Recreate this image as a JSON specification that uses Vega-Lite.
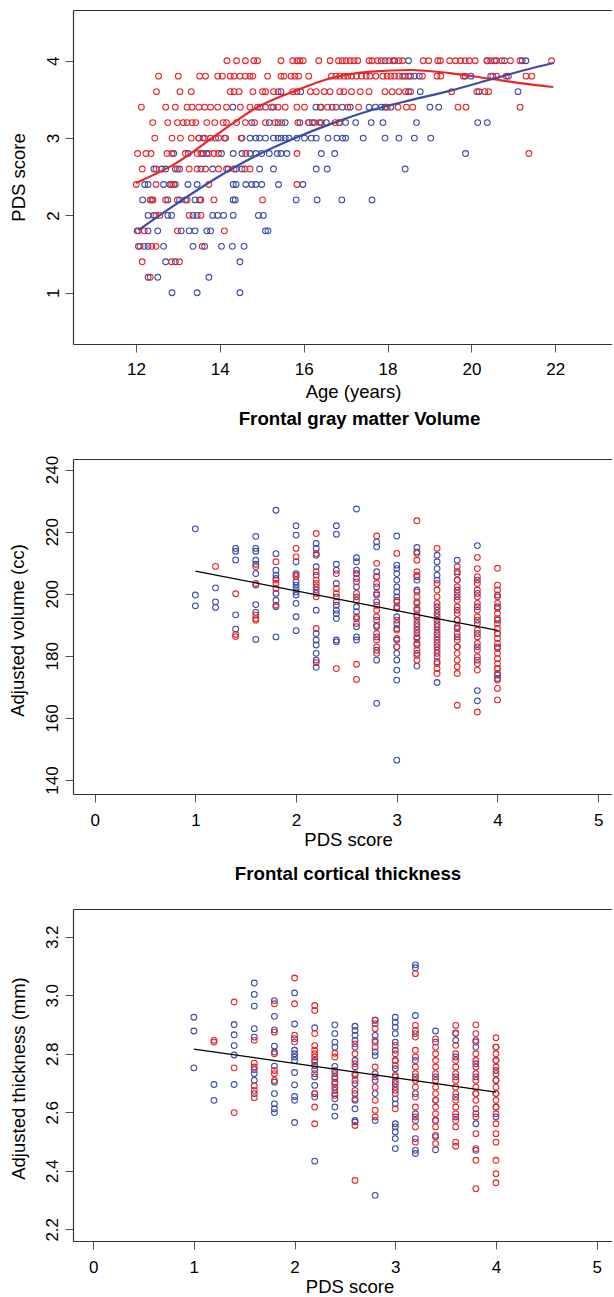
{
"$schema": "https://vega.github.io/schema/vega-lite/v6.json",
"background": "white",
"padding": {"left": 8, "top": 10, "right": 0, "bottom": 0},
"spacing": 115,
"bounds": "flush",
"config": {
 "view": {"stroke": null},
 "font": "Liberation Sans",
 "axis": {"labelFont": "Liberation Sans", "labelFontSize": 17, "labelColor": "#000", "titleFont": "Liberation Sans", "titleFontSize": 18.5, "titleFontWeight": "normal", "titleColor": "#000", "domainColor": "#333", "domainWidth": 1.2, "tickColor": "#555", "tickWidth": 1, "tickSize": 8, "grid": false},
 "title": {"font": "Liberation Sans", "fontSize": 18.7, "fontWeight": "bold", "color": "#000"}
},
"datasets": {
 "puberty": [
 {"sex":"M","pds":4,"age":17.94},{"sex":"M","pds":4,"age":18.17},{"sex":"M","pds":4,"age":18.5},{"sex":"M","pds":4,"age":20.37},{"sex":"M","pds":4,"age":20.55},{"sex":"M","pds":4,"age":20.79},{"sex":"M","pds":4,"age":21.21},{"sex":"M","pds":4,"age":21.3},
 {"sex":"M","pds":3.8,"age":18.36},{"sex":"M","pds":3.8,"age":18.5},{"sex":"M","pds":3.8,"age":18.64},{"sex":"M","pds":3.8,"age":18.76},{"sex":"M","pds":3.8,"age":19.85},{"sex":"M","pds":3.8,"age":19.99},{"sex":"M","pds":3.8,"age":20.46},{"sex":"M","pds":3.8,"age":20.88},
 {"sex":"M","pds":3.6,"age":15.46},{"sex":"M","pds":3.6,"age":15.93},{"sex":"M","pds":3.6,"age":18.5},{"sex":"M","pds":3.6,"age":18.78},{"sex":"M","pds":3.6,"age":20.18},{"sex":"M","pds":3.6,"age":21.11},
 {"sex":"M","pds":3.4,"age":14.31},{"sex":"M","pds":3.4,"age":14.96},{"sex":"M","pds":3.4,"age":15.23},{"sex":"M","pds":3.4,"age":16.29},{"sex":"M","pds":3.4,"age":16.4},{"sex":"M","pds":3.4,"age":16.68},{"sex":"M","pds":3.4,"age":16.92},{"sex":"M","pds":3.4,"age":17.11},{"sex":"M","pds":3.4,"age":17.56},{"sex":"M","pds":3.4,"age":17.71},{"sex":"M","pds":3.4,"age":17.85},{"sex":"M","pds":3.4,"age":17.94},{"sex":"M","pds":3.4,"age":18.08},{"sex":"M","pds":3.4,"age":19.01},{"sex":"M","pds":3.4,"age":19.22},
 {"sex":"M","pds":3.2,"age":14.76},{"sex":"M","pds":3.2,"age":15.18},{"sex":"M","pds":3.2,"age":15.39},{"sex":"M","pds":3.2,"age":15.56},{"sex":"M","pds":3.2,"age":15.91},{"sex":"M","pds":3.2,"age":16.12},{"sex":"M","pds":3.2,"age":16.21},{"sex":"M","pds":3.2,"age":16.38},{"sex":"M","pds":3.2,"age":16.54},{"sex":"M","pds":3.2,"age":16.86},{"sex":"M","pds":3.2,"age":17.0},{"sex":"M","pds":3.2,"age":17.24},{"sex":"M","pds":3.2,"age":17.61},{"sex":"M","pds":3.2,"age":17.89},{"sex":"M","pds":3.2,"age":18.69},{"sex":"M","pds":3.2,"age":20.15},{"sex":"M","pds":3.2,"age":20.38},
 {"sex":"M","pds":3,"age":13.5},{"sex":"M","pds":3,"age":13.6},{"sex":"M","pds":3,"age":13.9},{"sex":"M","pds":3,"age":14.11},{"sex":"M","pds":3,"age":14.53},{"sex":"M","pds":3,"age":14.72},{"sex":"M","pds":3,"age":14.86},{"sex":"M","pds":3,"age":14.95},{"sex":"M","pds":3,"age":15.09},{"sex":"M","pds":3,"age":15.28},{"sex":"M","pds":3,"age":15.39},{"sex":"M","pds":3,"age":15.46},{"sex":"M","pds":3,"age":15.56},{"sex":"M","pds":3,"age":15.65},{"sex":"M","pds":3,"age":15.84},{"sex":"M","pds":3,"age":16.02},{"sex":"M","pds":3,"age":16.18},{"sex":"M","pds":3,"age":16.3},{"sex":"M","pds":3,"age":16.58},{"sex":"M","pds":3,"age":16.79},{"sex":"M","pds":3,"age":16.93},{"sex":"M","pds":3,"age":17.0},{"sex":"M","pds":3,"age":17.42},{"sex":"M","pds":3,"age":17.94},{"sex":"M","pds":3,"age":18.27},{"sex":"M","pds":3,"age":18.64},{"sex":"M","pds":3,"age":19.03},
 {"sex":"M","pds":2.8,"age":12.9},{"sex":"M","pds":2.8,"age":13.25},{"sex":"M","pds":2.8,"age":13.6},{"sex":"M","pds":2.8,"age":13.69},{"sex":"M","pds":2.8,"age":14.04},{"sex":"M","pds":2.8,"age":14.32},{"sex":"M","pds":2.8,"age":14.53},{"sex":"M","pds":2.8,"age":14.72},{"sex":"M","pds":2.8,"age":14.86},{"sex":"M","pds":2.8,"age":15.0},{"sex":"M","pds":2.8,"age":15.18},{"sex":"M","pds":2.8,"age":15.37},{"sex":"M","pds":2.8,"age":15.46},{"sex":"M","pds":2.8,"age":15.6},{"sex":"M","pds":2.8,"age":16.42},{"sex":"M","pds":2.8,"age":16.74},{"sex":"M","pds":2.8,"age":19.86},
 {"sex":"M","pds":2.6,"age":12.43},{"sex":"M","pds":2.6,"age":12.62},{"sex":"M","pds":2.6,"age":12.71},{"sex":"M","pds":2.6,"age":12.94},{"sex":"M","pds":2.6,"age":13.04},{"sex":"M","pds":2.6,"age":13.55},{"sex":"M","pds":2.6,"age":13.83},{"sex":"M","pds":2.6,"age":14.2},{"sex":"M","pds":2.6,"age":14.39},{"sex":"M","pds":2.6,"age":14.53},{"sex":"M","pds":2.6,"age":14.95},{"sex":"M","pds":2.6,"age":15.28},{"sex":"M","pds":2.6,"age":16.3},{"sex":"M","pds":2.6,"age":16.56},{"sex":"M","pds":2.6,"age":18.42},
 {"sex":"M","pds":2.4,"age":12.21},{"sex":"M","pds":2.4,"age":12.29},{"sex":"M","pds":2.4,"age":12.66},{"sex":"M","pds":2.4,"age":12.81},{"sex":"M","pds":2.4,"age":12.94},{"sex":"M","pds":2.4,"age":13.24},{"sex":"M","pds":2.4,"age":13.46},{"sex":"M","pds":2.4,"age":14.32},{"sex":"M","pds":2.4,"age":14.39},{"sex":"M","pds":2.4,"age":14.62},{"sex":"M","pds":2.4,"age":14.76},{"sex":"M","pds":2.4,"age":14.86},{"sex":"M","pds":2.4,"age":15.0},{"sex":"M","pds":2.4,"age":15.4},{"sex":"M","pds":2.4,"age":15.98},
 {"sex":"M","pds":2.2,"age":12.16},{"sex":"M","pds":2.2,"age":12.38},{"sex":"M","pds":2.2,"age":12.76},{"sex":"M","pds":2.2,"age":13.04},{"sex":"M","pds":2.2,"age":13.18},{"sex":"M","pds":2.2,"age":13.41},{"sex":"M","pds":2.2,"age":13.52},{"sex":"M","pds":2.2,"age":14.32},{"sex":"M","pds":2.2,"age":14.37},{"sex":"M","pds":2.2,"age":15.82},{"sex":"M","pds":2.2,"age":16.32},{"sex":"M","pds":2.2,"age":16.91},{"sex":"M","pds":2.2,"age":17.63},
 {"sex":"M","pds":2,"age":12.29},{"sex":"M","pds":2,"age":12.43},{"sex":"M","pds":2,"age":12.76},{"sex":"M","pds":2,"age":12.85},{"sex":"M","pds":2,"age":13.36},{"sex":"M","pds":2,"age":13.46},{"sex":"M","pds":2,"age":13.83},{"sex":"M","pds":2,"age":13.95},{"sex":"M","pds":2,"age":14.09},{"sex":"M","pds":2,"age":14.32},{"sex":"M","pds":2,"age":14.92},{"sex":"M","pds":2,"age":15.04},
 {"sex":"M","pds":1.8,"age":12.03},{"sex":"M","pds":1.8,"age":12.29},{"sex":"M","pds":1.8,"age":12.52},{"sex":"M","pds":1.8,"age":13.08},{"sex":"M","pds":1.8,"age":13.27},{"sex":"M","pds":1.8,"age":13.41},{"sex":"M","pds":1.8,"age":13.69},{"sex":"M","pds":1.8,"age":13.78},{"sex":"M","pds":1.8,"age":15.09},{"sex":"M","pds":1.8,"age":15.15},
 {"sex":"M","pds":1.6,"age":12.06},{"sex":"M","pds":1.6,"age":12.2},{"sex":"M","pds":1.6,"age":12.29},{"sex":"M","pds":1.6,"age":12.66},{"sex":"M","pds":1.6,"age":13.36},{"sex":"M","pds":1.6,"age":13.64},{"sex":"M","pds":1.6,"age":14.04},{"sex":"M","pds":1.6,"age":14.3},{"sex":"M","pds":1.6,"age":14.58},
 {"sex":"M","pds":1.4,"age":12.71},{"sex":"M","pds":1.4,"age":12.94},{"sex":"M","pds":1.4,"age":14.48},
 {"sex":"M","pds":1.2,"age":12.29},{"sex":"M","pds":1.2,"age":12.52},{"sex":"M","pds":1.2,"age":13.74},
 {"sex":"M","pds":1,"age":12.86},{"sex":"M","pds":1,"age":13.46},{"sex":"M","pds":1,"age":14.48},
 {"sex":"F","pds":4,"age":14.17},{"sex":"F","pds":4,"age":14.4},{"sex":"F","pds":4,"age":14.61},{"sex":"F","pds":4,"age":14.81},{"sex":"F","pds":4,"age":14.9},{"sex":"F","pds":4,"age":15.46},{"sex":"F","pds":4,"age":15.74},{"sex":"F","pds":4,"age":15.84},{"sex":"F","pds":4,"age":15.91},{"sex":"F","pds":4,"age":15.99},{"sex":"F","pds":4,"age":16.36},{"sex":"F","pds":4,"age":16.63},{"sex":"F","pds":4,"age":16.83},{"sex":"F","pds":4,"age":16.92},{"sex":"F","pds":4,"age":17.01},{"sex":"F","pds":4,"age":17.11},{"sex":"F","pds":4,"age":17.2},{"sex":"F","pds":4,"age":17.29},{"sex":"F","pds":4,"age":17.56},{"sex":"F","pds":4,"age":17.63},{"sex":"F","pds":4,"age":17.76},{"sex":"F","pds":4,"age":17.85},{"sex":"F","pds":4,"age":18.03},{"sex":"F","pds":4,"age":18.13},{"sex":"F","pds":4,"age":18.27},{"sex":"F","pds":4,"age":18.36},{"sex":"F","pds":4,"age":18.85},{"sex":"F","pds":4,"age":18.98},{"sex":"F","pds":4,"age":19.2},{"sex":"F","pds":4,"age":19.26},{"sex":"F","pds":4,"age":19.48},{"sex":"F","pds":4,"age":19.62},{"sex":"F","pds":4,"age":19.74},{"sex":"F","pds":4,"age":19.85},{"sex":"F","pds":4,"age":19.95},{"sex":"F","pds":4,"age":20.09},{"sex":"F","pds":4,"age":20.38},{"sex":"F","pds":4,"age":20.46},{"sex":"F","pds":4,"age":20.6},{"sex":"F","pds":4,"age":20.72},{"sex":"F","pds":4,"age":20.93},{"sex":"F","pds":4,"age":21.16},{"sex":"F","pds":4,"age":21.91},
 {"sex":"F","pds":3.8,"age":12.54},{"sex":"F","pds":3.8,"age":13.01},{"sex":"F","pds":3.8,"age":13.52},{"sex":"F","pds":3.8,"age":13.66},{"sex":"F","pds":3.8,"age":13.95},{"sex":"F","pds":3.8,"age":14.06},{"sex":"F","pds":3.8,"age":14.25},{"sex":"F","pds":3.8,"age":14.34},{"sex":"F","pds":3.8,"age":14.48},{"sex":"F","pds":3.8,"age":14.61},{"sex":"F","pds":3.8,"age":14.72},{"sex":"F","pds":3.8,"age":14.79},{"sex":"F","pds":3.8,"age":15.14},{"sex":"F","pds":3.8,"age":15.46},{"sex":"F","pds":3.8,"age":15.53},{"sex":"F","pds":3.8,"age":15.7},{"sex":"F","pds":3.8,"age":15.79},{"sex":"F","pds":3.8,"age":15.88},{"sex":"F","pds":3.8,"age":16.12},{"sex":"F","pds":3.8,"age":16.66},{"sex":"F","pds":3.8,"age":16.77},{"sex":"F","pds":3.8,"age":16.86},{"sex":"F","pds":3.8,"age":16.96},{"sex":"F","pds":3.8,"age":17.05},{"sex":"F","pds":3.8,"age":17.14},{"sex":"F","pds":3.8,"age":17.26},{"sex":"F","pds":3.8,"age":17.38},{"sex":"F","pds":3.8,"age":17.49},{"sex":"F","pds":3.8,"age":17.58},{"sex":"F","pds":3.8,"age":17.72},{"sex":"F","pds":3.8,"age":17.89},{"sex":"F","pds":3.8,"age":17.99},{"sex":"F","pds":3.8,"age":18.08},{"sex":"F","pds":3.8,"age":18.17},{"sex":"F","pds":3.8,"age":18.27},{"sex":"F","pds":3.8,"age":18.42},{"sex":"F","pds":3.8,"age":18.55},{"sex":"F","pds":3.8,"age":18.83},{"sex":"F","pds":3.8,"age":19.18},{"sex":"F","pds":3.8,"age":19.27},{"sex":"F","pds":3.8,"age":19.81},{"sex":"F","pds":3.8,"age":20.51},{"sex":"F","pds":3.8,"age":20.6},{"sex":"F","pds":3.8,"age":20.83},{"sex":"F","pds":3.8,"age":21.3},{"sex":"F","pds":3.8,"age":21.44},
 {"sex":"F","pds":3.6,"age":12.49},{"sex":"F","pds":3.6,"age":13.05},{"sex":"F","pds":3.6,"age":13.32},{"sex":"F","pds":3.6,"age":14.25},{"sex":"F","pds":3.6,"age":14.34},{"sex":"F","pds":3.6,"age":14.46},{"sex":"F","pds":3.6,"age":14.79},{"sex":"F","pds":3.6,"age":15.02},{"sex":"F","pds":3.6,"age":15.09},{"sex":"F","pds":3.6,"age":15.28},{"sex":"F","pds":3.6,"age":15.39},{"sex":"F","pds":3.6,"age":15.74},{"sex":"F","pds":3.6,"age":15.84},{"sex":"F","pds":3.6,"age":16.16},{"sex":"F","pds":3.6,"age":16.3},{"sex":"F","pds":3.6,"age":16.49},{"sex":"F","pds":3.6,"age":16.63},{"sex":"F","pds":3.6,"age":16.86},{"sex":"F","pds":3.6,"age":16.96},{"sex":"F","pds":3.6,"age":17.14},{"sex":"F","pds":3.6,"age":17.35},{"sex":"F","pds":3.6,"age":17.56},{"sex":"F","pds":3.6,"age":17.94},{"sex":"F","pds":3.6,"age":18.11},{"sex":"F","pds":3.6,"age":18.27},{"sex":"F","pds":3.6,"age":18.43},{"sex":"F","pds":3.6,"age":18.55},{"sex":"F","pds":3.6,"age":19.53},{"sex":"F","pds":3.6,"age":20.13},{"sex":"F","pds":3.6,"age":20.32},{"sex":"F","pds":3.6,"age":20.41},
 {"sex":"F","pds":3.4,"age":12.13},{"sex":"F","pds":3.4,"age":12.71},{"sex":"F","pds":3.4,"age":12.94},{"sex":"F","pds":3.4,"age":13.22},{"sex":"F","pds":3.4,"age":13.34},{"sex":"F","pds":3.4,"age":13.5},{"sex":"F","pds":3.4,"age":13.64},{"sex":"F","pds":3.4,"age":13.78},{"sex":"F","pds":3.4,"age":13.95},{"sex":"F","pds":3.4,"age":14.16},{"sex":"F","pds":3.4,"age":14.49},{"sex":"F","pds":3.4,"age":14.72},{"sex":"F","pds":3.4,"age":14.9},{"sex":"F","pds":3.4,"age":15.09},{"sex":"F","pds":3.4,"age":15.28},{"sex":"F","pds":3.4,"age":15.39},{"sex":"F","pds":3.4,"age":15.56},{"sex":"F","pds":3.4,"age":15.84},{"sex":"F","pds":3.4,"age":16.02},{"sex":"F","pds":3.4,"age":16.42},{"sex":"F","pds":3.4,"age":16.57},{"sex":"F","pds":3.4,"age":16.77},{"sex":"F","pds":3.4,"age":17.05},{"sex":"F","pds":3.4,"age":17.31},{"sex":"F","pds":3.4,"age":17.99},{"sex":"F","pds":3.4,"age":18.25},{"sex":"F","pds":3.4,"age":18.45},{"sex":"F","pds":3.4,"age":18.6},{"sex":"F","pds":3.4,"age":19.68},{"sex":"F","pds":3.4,"age":19.87},{"sex":"F","pds":3.4,"age":21.16},
 {"sex":"F","pds":3.2,"age":12.4},{"sex":"F","pds":3.2,"age":12.76},{"sex":"F","pds":3.2,"age":12.99},{"sex":"F","pds":3.2,"age":13.13},{"sex":"F","pds":3.2,"age":13.22},{"sex":"F","pds":3.2,"age":13.34},{"sex":"F","pds":3.2,"age":13.43},{"sex":"F","pds":3.2,"age":13.69},{"sex":"F","pds":3.2,"age":13.88},{"sex":"F","pds":3.2,"age":14.08},{"sex":"F","pds":3.2,"age":14.16},{"sex":"F","pds":3.2,"age":14.4},{"sex":"F","pds":3.2,"age":14.61},{"sex":"F","pds":3.2,"age":14.83},{"sex":"F","pds":3.2,"age":15.09},{"sex":"F","pds":3.2,"age":15.32},{"sex":"F","pds":3.2,"age":15.48},{"sex":"F","pds":3.2,"age":15.86},{"sex":"F","pds":3.2,"age":16.12},{"sex":"F","pds":3.2,"age":16.26},{"sex":"F","pds":3.2,"age":16.42},{"sex":"F","pds":3.2,"age":16.75},{"sex":"F","pds":3.2,"age":16.85},
 {"sex":"F","pds":3,"age":12.45},{"sex":"F","pds":3,"age":12.86},{"sex":"F","pds":3,"age":13.06},{"sex":"F","pds":3,"age":13.32},{"sex":"F","pds":3,"age":13.5},{"sex":"F","pds":3,"age":13.64},{"sex":"F","pds":3,"age":13.78},{"sex":"F","pds":3,"age":13.97},{"sex":"F","pds":3,"age":14.14},{"sex":"F","pds":3,"age":14.51},
 {"sex":"F","pds":2.8,"age":12.04},{"sex":"F","pds":2.8,"age":12.24},{"sex":"F","pds":2.8,"age":12.36},{"sex":"F","pds":2.8,"age":12.74},{"sex":"F","pds":2.8,"age":12.86},{"sex":"F","pds":2.8,"age":13.18},{"sex":"F","pds":2.8,"age":13.46},{"sex":"F","pds":2.8,"age":13.55},{"sex":"F","pds":2.8,"age":13.74},{"sex":"F","pds":2.8,"age":13.86},{"sex":"F","pds":2.8,"age":13.97},{"sex":"F","pds":2.8,"age":14.62},{"sex":"F","pds":2.8,"age":15.84},{"sex":"F","pds":2.8,"age":21.37},
 {"sex":"F","pds":2.6,"age":12.15},{"sex":"F","pds":2.6,"age":12.48},{"sex":"F","pds":2.6,"age":12.99},{"sex":"F","pds":2.6,"age":13.27},{"sex":"F","pds":2.6,"age":13.46},{"sex":"F","pds":2.6,"age":13.66},{"sex":"F","pds":2.6,"age":13.97},{"sex":"F","pds":2.6,"age":14.16},{"sex":"F","pds":2.6,"age":14.34},{"sex":"F","pds":2.6,"age":14.6},{"sex":"F","pds":2.6,"age":14.72},
 {"sex":"F","pds":2.4,"age":12.01},{"sex":"F","pds":2.4,"age":12.48},{"sex":"F","pds":2.4,"age":12.85},{"sex":"F","pds":2.4,"age":12.9},{"sex":"F","pds":2.4,"age":13.74},{"sex":"F","pds":2.4,"age":15.84},
 {"sex":"F","pds":2.2,"age":12.34},{"sex":"F","pds":2.2,"age":12.41},{"sex":"F","pds":2.2,"age":12.71},{"sex":"F","pds":2.2,"age":12.99},{"sex":"F","pds":2.2,"age":13.22},{"sex":"F","pds":2.2,"age":13.55},{"sex":"F","pds":2.2,"age":13.86},{"sex":"F","pds":2.2,"age":15.02},
 {"sex":"F","pds":2,"age":12.48},{"sex":"F","pds":2,"age":12.57},{"sex":"F","pds":2,"age":13.27},{"sex":"F","pds":2,"age":13.55},
 {"sex":"F","pds":1.8,"age":12.06},{"sex":"F","pds":1.8,"age":12.2},{"sex":"F","pds":1.8,"age":12.99},{"sex":"F","pds":1.8,"age":14.11},
 {"sex":"F","pds":1.6,"age":12.1},{"sex":"F","pds":1.6,"age":12.38},{"sex":"F","pds":1.6,"age":12.48},{"sex":"F","pds":1.6,"age":13.58},
 {"sex":"F","pds":1.4,"age":12.15},{"sex":"F","pds":1.4,"age":12.85},{"sex":"F","pds":1.4,"age":13.04},
 {"sex":"F","pds":1.2,"age":12.34}
 ],
 "curves": [
 {"sex":"F","age":12.0,"pds":2.42},{"sex":"F","age":12.94,"pds":2.67},{"sex":"F","age":13.97,"pds":3.06},{"sex":"F","age":14.9,"pds":3.4},{"sex":"F","age":15.84,"pds":3.62},{"sex":"F","age":16.68,"pds":3.78},{"sex":"F","age":17.61,"pds":3.86},{"sex":"F","age":18.55,"pds":3.88},{"sex":"F","age":19.48,"pds":3.84},{"sex":"F","age":20.41,"pds":3.77},{"sex":"F","age":21.16,"pds":3.71},{"sex":"F","age":21.95,"pds":3.66},
 {"sex":"M","age":12.06,"pds":1.81},{"sex":"M","age":12.94,"pds":2.14},{"sex":"M","age":13.97,"pds":2.5},{"sex":"M","age":14.9,"pds":2.78},{"sex":"M","age":15.84,"pds":3.01},{"sex":"M","age":16.68,"pds":3.19},{"sex":"M","age":17.61,"pds":3.36},{"sex":"M","age":18.55,"pds":3.49},{"sex":"M","age":19.48,"pds":3.61},{"sex":"M","age":20.41,"pds":3.75},{"sex":"M","age":21.35,"pds":3.89},{"sex":"M","age":21.95,"pds":3.97}
 ],
 "volume": [
 {"sex":"M","pds":1,"vol":220.9},{"sex":"M","pds":1,"vol":199.6},{"sex":"M","pds":1,"vol":196.1},
 {"sex":"M","pds":1.2,"vol":201.9},{"sex":"M","pds":1.2,"vol":197.4},{"sex":"M","pds":1.2,"vol":195.6},
 {"sex":"M","pds":1.4,"vol":214.6},{"sex":"M","pds":1.4,"vol":213.7},{"sex":"M","pds":1.4,"vol":210.9},{"sex":"M","pds":1.4,"vol":193.2},{"sex":"M","pds":1.4,"vol":188.6},
 {"sex":"M","pds":1.6,"vol":218.5},{"sex":"M","pds":1.6,"vol":214.6},{"sex":"M","pds":1.6,"vol":213.7},{"sex":"M","pds":1.6,"vol":210.8},{"sex":"M","pds":1.6,"vol":209.5},{"sex":"M","pds":1.6,"vol":206.5},{"sex":"M","pds":1.6,"vol":202.8},{"sex":"M","pds":1.6,"vol":196.5},{"sex":"M","pds":1.6,"vol":194.0},{"sex":"M","pds":1.6,"vol":185.3},
 {"sex":"M","pds":1.8,"vol":226.9},{"sex":"M","pds":1.8,"vol":212.9},{"sex":"M","pds":1.8,"vol":207.6},{"sex":"M","pds":1.8,"vol":206.0},{"sex":"M","pds":1.8,"vol":204.9},{"sex":"M","pds":1.8,"vol":200.1},{"sex":"M","pds":1.8,"vol":197.9},{"sex":"M","pds":1.8,"vol":195.8},{"sex":"M","pds":1.8,"vol":186.1},
 {"sex":"M","pds":2,"vol":221.9},{"sex":"M","pds":2,"vol":218.9},{"sex":"M","pds":2,"vol":210.3},{"sex":"M","pds":2,"vol":206.5},{"sex":"M","pds":2,"vol":203.8},{"sex":"M","pds":2,"vol":202.8},{"sex":"M","pds":2,"vol":201.7},{"sex":"M","pds":2,"vol":200.6},{"sex":"M","pds":2,"vol":199.6},{"sex":"M","pds":2,"vol":196.9},{"sex":"M","pds":2,"vol":192.6},{"sex":"M","pds":2,"vol":188.1},
 {"sex":"M","pds":2.2,"vol":216.2},{"sex":"M","pds":2.2,"vol":214.6},{"sex":"M","pds":2.2,"vol":212.4},{"sex":"M","pds":2.2,"vol":208.7},{"sex":"M","pds":2.2,"vol":206.0},{"sex":"M","pds":2.2,"vol":202.2},{"sex":"M","pds":2.2,"vol":200.1},{"sex":"M","pds":2.2,"vol":194.7},{"sex":"M","pds":2.2,"vol":187.2},{"sex":"M","pds":2.2,"vol":185.1},{"sex":"M","pds":2.2,"vol":183.5},{"sex":"M","pds":2.2,"vol":180.8},{"sex":"M","pds":2.2,"vol":178.6},{"sex":"M","pds":2.2,"vol":176.3},
 {"sex":"M","pds":2.4,"vol":221.9},{"sex":"M","pds":2.4,"vol":219.2},{"sex":"M","pds":2.4,"vol":209.5},{"sex":"M","pds":2.4,"vol":207.6},{"sex":"M","pds":2.4,"vol":203.3},{"sex":"M","pds":2.4,"vol":199.0},{"sex":"M","pds":2.4,"vol":196.3},{"sex":"M","pds":2.4,"vol":194.7},{"sex":"M","pds":2.4,"vol":193.6},{"sex":"M","pds":2.4,"vol":192.0},{"sex":"M","pds":2.4,"vol":185.1},{"sex":"M","pds":2.4,"vol":184.5},
 {"sex":"M","pds":2.6,"vol":227.3},{"sex":"M","pds":2.6,"vol":211.6},{"sex":"M","pds":2.6,"vol":210.3},{"sex":"M","pds":2.6,"vol":207.6},{"sex":"M","pds":2.6,"vol":206.5},{"sex":"M","pds":2.6,"vol":204.9},{"sex":"M","pds":2.6,"vol":202.2},{"sex":"M","pds":2.6,"vol":199.0},{"sex":"M","pds":2.6,"vol":195.8},{"sex":"M","pds":2.6,"vol":194.2},{"sex":"M","pds":2.6,"vol":192.0},{"sex":"M","pds":2.6,"vol":189.4},{"sex":"M","pds":2.6,"vol":186.1},{"sex":"M","pds":2.6,"vol":185.1},
 {"sex":"M","pds":2.8,"vol":216.7},{"sex":"M","pds":2.8,"vol":215.1},{"sex":"M","pds":2.8,"vol":207.1},{"sex":"M","pds":2.8,"vol":205.5},{"sex":"M","pds":2.8,"vol":202.2},{"sex":"M","pds":2.8,"vol":199.6},{"sex":"M","pds":2.8,"vol":197.4},{"sex":"M","pds":2.8,"vol":191.5},{"sex":"M","pds":2.8,"vol":189.4},{"sex":"M","pds":2.8,"vol":186.1},{"sex":"M","pds":2.8,"vol":181.8},{"sex":"M","pds":2.8,"vol":178.6},{"sex":"M","pds":2.8,"vol":164.7},
 {"sex":"M","pds":3,"vol":218.6},{"sex":"M","pds":3,"vol":209.2},{"sex":"M","pds":3,"vol":208.1},{"sex":"M","pds":3,"vol":206.5},{"sex":"M","pds":3,"vol":204.4},{"sex":"M","pds":3,"vol":202.2},{"sex":"M","pds":3,"vol":200.6},{"sex":"M","pds":3,"vol":199.0},{"sex":"M","pds":3,"vol":197.4},{"sex":"M","pds":3,"vol":195.3},{"sex":"M","pds":3,"vol":192.6},{"sex":"M","pds":3,"vol":190.4},{"sex":"M","pds":3,"vol":188.8},{"sex":"M","pds":3,"vol":185.1},{"sex":"M","pds":3,"vol":182.9},{"sex":"M","pds":3,"vol":180.8},{"sex":"M","pds":3,"vol":178.6},{"sex":"M","pds":3,"vol":175.4},{"sex":"M","pds":3,"vol":172.2},{"sex":"M","pds":3,"vol":146.4},
 {"sex":"M","pds":3.2,"vol":214.9},{"sex":"M","pds":3.2,"vol":213.5},{"sex":"M","pds":3.2,"vol":205.5},{"sex":"M","pds":3.2,"vol":204.4},{"sex":"M","pds":3.2,"vol":201.2},{"sex":"M","pds":3.2,"vol":196.9},{"sex":"M","pds":3.2,"vol":194.7},{"sex":"M","pds":3.2,"vol":192.6},{"sex":"M","pds":3.2,"vol":190.4},{"sex":"M","pds":3.2,"vol":188.3},{"sex":"M","pds":3.2,"vol":186.1},{"sex":"M","pds":3.2,"vol":184.0},{"sex":"M","pds":3.2,"vol":180.8},{"sex":"M","pds":3.2,"vol":176.7},
 {"sex":"M","pds":3.4,"vol":212.4},{"sex":"M","pds":3.4,"vol":210.3},{"sex":"M","pds":3.4,"vol":208.1},{"sex":"M","pds":3.4,"vol":206.0},{"sex":"M","pds":3.4,"vol":204.4},{"sex":"M","pds":3.4,"vol":195.8},{"sex":"M","pds":3.4,"vol":193.6},{"sex":"M","pds":3.4,"vol":191.5},{"sex":"M","pds":3.4,"vol":189.4},{"sex":"M","pds":3.4,"vol":187.2},{"sex":"M","pds":3.4,"vol":185.1},{"sex":"M","pds":3.4,"vol":182.9},{"sex":"M","pds":3.4,"vol":180.8},{"sex":"M","pds":3.4,"vol":178.1},{"sex":"M","pds":3.4,"vol":171.4},
 {"sex":"M","pds":3.6,"vol":210.8},{"sex":"M","pds":3.6,"vol":207.1},{"sex":"M","pds":3.6,"vol":204.4},{"sex":"M","pds":3.6,"vol":201.2},{"sex":"M","pds":3.6,"vol":199.0},{"sex":"M","pds":3.6,"vol":194.7},{"sex":"M","pds":3.6,"vol":191.5},{"sex":"M","pds":3.6,"vol":188.8},{"sex":"M","pds":3.6,"vol":186.1},{"sex":"M","pds":3.6,"vol":182.9},
 {"sex":"M","pds":3.8,"vol":215.5},{"sex":"M","pds":3.8,"vol":204.4},{"sex":"M","pds":3.8,"vol":200.1},{"sex":"M","pds":3.8,"vol":195.8},{"sex":"M","pds":3.8,"vol":191.5},{"sex":"M","pds":3.8,"vol":187.2},{"sex":"M","pds":3.8,"vol":182.9},{"sex":"M","pds":3.8,"vol":178.6},{"sex":"M","pds":3.8,"vol":168.8},{"sex":"M","pds":3.8,"vol":165.5},
 {"sex":"M","pds":4,"vol":199.6},{"sex":"M","pds":4,"vol":195.8},{"sex":"M","pds":4,"vol":191.5},{"sex":"M","pds":4,"vol":187.2},{"sex":"M","pds":4,"vol":182.9},{"sex":"M","pds":4,"vol":175.9},{"sex":"M","pds":4,"vol":173.8},{"sex":"M","pds":4,"vol":172.7},
 {"sex":"F","pds":1.2,"vol":208.8},
 {"sex":"F","pds":1.4,"vol":200.0},{"sex":"F","pds":1.4,"vol":186.9},{"sex":"F","pds":1.4,"vol":186.2},
 {"sex":"F","pds":1.6,"vol":208.7},{"sex":"F","pds":1.6,"vol":203.3},{"sex":"F","pds":1.6,"vol":193.1},{"sex":"F","pds":1.6,"vol":192.0},{"sex":"F","pds":1.6,"vol":191.5},
 {"sex":"F","pds":1.8,"vol":210.3},{"sex":"F","pds":1.8,"vol":204.4},{"sex":"F","pds":1.8,"vol":203.3},{"sex":"F","pds":1.8,"vol":201.7},{"sex":"F","pds":1.8,"vol":196.3},
 {"sex":"F","pds":2,"vol":214.6},{"sex":"F","pds":2,"vol":211.9},{"sex":"F","pds":2,"vol":206.0},{"sex":"F","pds":2,"vol":205.5},
 {"sex":"F","pds":2.2,"vol":219.4},{"sex":"F","pds":2.2,"vol":213.0},{"sex":"F","pds":2.2,"vol":207.1},{"sex":"F","pds":2.2,"vol":204.4},{"sex":"F","pds":2.2,"vol":203.3},{"sex":"F","pds":2.2,"vol":201.2},{"sex":"F","pds":2.2,"vol":199.0},{"sex":"F","pds":2.2,"vol":188.8},{"sex":"F","pds":2.2,"vol":177.8},
 {"sex":"F","pds":2.4,"vol":206.5},{"sex":"F","pds":2.4,"vol":201.7},{"sex":"F","pds":2.4,"vol":200.1},{"sex":"F","pds":2.4,"vol":197.4},{"sex":"F","pds":2.4,"vol":175.9},
 {"sex":"F","pds":2.6,"vol":206.5},{"sex":"F","pds":2.6,"vol":203.8},{"sex":"F","pds":2.6,"vol":200.1},{"sex":"F","pds":2.6,"vol":197.9},{"sex":"F","pds":2.6,"vol":192.6},{"sex":"F","pds":2.6,"vol":190.4},{"sex":"F","pds":2.6,"vol":177.3},{"sex":"F","pds":2.6,"vol":172.4},
 {"sex":"F","pds":2.8,"vol":218.6},{"sex":"F","pds":2.8,"vol":209.8},{"sex":"F","pds":2.8,"vol":205.5},{"sex":"F","pds":2.8,"vol":203.3},{"sex":"F","pds":2.8,"vol":200.1},{"sex":"F","pds":2.8,"vol":196.3},{"sex":"F","pds":2.8,"vol":194.7},{"sex":"F","pds":2.8,"vol":192.6},{"sex":"F","pds":2.8,"vol":189.9},{"sex":"F","pds":2.8,"vol":187.2},{"sex":"F","pds":2.8,"vol":185.1},{"sex":"F","pds":2.8,"vol":182.9},{"sex":"F","pds":2.8,"vol":180.8},
 {"sex":"F","pds":3,"vol":213.0},{"sex":"F","pds":3,"vol":197.9},{"sex":"F","pds":3,"vol":195.8},{"sex":"F","pds":3,"vol":191.5},{"sex":"F","pds":3,"vol":188.3},{"sex":"F","pds":3,"vol":185.6},{"sex":"F","pds":3,"vol":182.9},
 {"sex":"F","pds":3.2,"vol":223.5},{"sex":"F","pds":3.2,"vol":213.0},{"sex":"F","pds":3.2,"vol":210.8},{"sex":"F","pds":3.2,"vol":207.1},{"sex":"F","pds":3.2,"vol":206.0},{"sex":"F","pds":3.2,"vol":200.6},{"sex":"F","pds":3.2,"vol":199.0},{"sex":"F","pds":3.2,"vol":197.4},{"sex":"F","pds":3.2,"vol":195.3},{"sex":"F","pds":3.2,"vol":193.1},{"sex":"F","pds":3.2,"vol":191.5},{"sex":"F","pds":3.2,"vol":189.4},{"sex":"F","pds":3.2,"vol":187.2},{"sex":"F","pds":3.2,"vol":185.6},{"sex":"F","pds":3.2,"vol":183.5},{"sex":"F","pds":3.2,"vol":181.8},{"sex":"F","pds":3.2,"vol":180.2},{"sex":"F","pds":3.2,"vol":178.6},
 {"sex":"F","pds":3.4,"vol":214.6},{"sex":"F","pds":3.4,"vol":203.3},{"sex":"F","pds":3.4,"vol":201.2},{"sex":"F","pds":3.4,"vol":199.0},{"sex":"F","pds":3.4,"vol":196.9},{"sex":"F","pds":3.4,"vol":194.7},{"sex":"F","pds":3.4,"vol":192.6},{"sex":"F","pds":3.4,"vol":190.4},{"sex":"F","pds":3.4,"vol":188.3},{"sex":"F","pds":3.4,"vol":186.1},{"sex":"F","pds":3.4,"vol":184.0},{"sex":"F","pds":3.4,"vol":181.8},{"sex":"F","pds":3.4,"vol":179.7},{"sex":"F","pds":3.4,"vol":177.5},{"sex":"F","pds":3.4,"vol":175.9},{"sex":"F","pds":3.4,"vol":174.3},
 {"sex":"F","pds":3.6,"vol":208.7},{"sex":"F","pds":3.6,"vol":206.5},{"sex":"F","pds":3.6,"vol":204.4},{"sex":"F","pds":3.6,"vol":202.2},{"sex":"F","pds":3.6,"vol":200.1},{"sex":"F","pds":3.6,"vol":197.9},{"sex":"F","pds":3.6,"vol":195.8},{"sex":"F","pds":3.6,"vol":193.6},{"sex":"F","pds":3.6,"vol":191.5},{"sex":"F","pds":3.6,"vol":189.4},{"sex":"F","pds":3.6,"vol":187.2},{"sex":"F","pds":3.6,"vol":185.1},{"sex":"F","pds":3.6,"vol":182.9},{"sex":"F","pds":3.6,"vol":180.8},{"sex":"F","pds":3.6,"vol":178.6},{"sex":"F","pds":3.6,"vol":176.5},{"sex":"F","pds":3.6,"vol":174.3},{"sex":"F","pds":3.6,"vol":164.1},
 {"sex":"F","pds":3.8,"vol":211.7},{"sex":"F","pds":3.8,"vol":208.1},{"sex":"F","pds":3.8,"vol":205.5},{"sex":"F","pds":3.8,"vol":203.3},{"sex":"F","pds":3.8,"vol":201.2},{"sex":"F","pds":3.8,"vol":199.0},{"sex":"F","pds":3.8,"vol":196.9},{"sex":"F","pds":3.8,"vol":194.7},{"sex":"F","pds":3.8,"vol":192.6},{"sex":"F","pds":3.8,"vol":190.4},{"sex":"F","pds":3.8,"vol":188.3},{"sex":"F","pds":3.8,"vol":186.1},{"sex":"F","pds":3.8,"vol":184.0},{"sex":"F","pds":3.8,"vol":181.8},{"sex":"F","pds":3.8,"vol":179.7},{"sex":"F","pds":3.8,"vol":177.5},{"sex":"F","pds":3.8,"vol":175.4},{"sex":"F","pds":3.8,"vol":161.9},
 {"sex":"F","pds":4,"vol":208.2},{"sex":"F","pds":4,"vol":202.8},{"sex":"F","pds":4,"vol":201.2},{"sex":"F","pds":4,"vol":199.0},{"sex":"F","pds":4,"vol":196.9},{"sex":"F","pds":4,"vol":195.3},{"sex":"F","pds":4,"vol":193.6},{"sex":"F","pds":4,"vol":192.0},{"sex":"F","pds":4,"vol":190.4},{"sex":"F","pds":4,"vol":188.8},{"sex":"F","pds":4,"vol":187.2},{"sex":"F","pds":4,"vol":185.6},{"sex":"F","pds":4,"vol":184.0},{"sex":"F","pds":4,"vol":182.4},{"sex":"F","pds":4,"vol":180.8},{"sex":"F","pds":4,"vol":179.1},{"sex":"F","pds":4,"vol":177.5},{"sex":"F","pds":4,"vol":175.9},{"sex":"F","pds":4,"vol":174.3},{"sex":"F","pds":4,"vol":172.2},{"sex":"F","pds":4,"vol":169.5},{"sex":"F","pds":4,"vol":165.8}
 ],
 "volume_fit": [{"pds":1,"vol":207.3},{"pds":4,"vol":188.2}],
 "thickness": [
 {"sex":"M","pds":1,"mm":2.925},{"sex":"M","pds":1,"mm":2.878},{"sex":"M","pds":1,"mm":2.752},
 {"sex":"M","pds":1.2,"mm":2.695},{"sex":"M","pds":1.2,"mm":2.641},
 {"sex":"M","pds":1.4,"mm":2.9},{"sex":"M","pds":1.4,"mm":2.865},{"sex":"M","pds":1.4,"mm":2.828},{"sex":"M","pds":1.4,"mm":2.796},{"sex":"M","pds":1.4,"mm":2.695},
 {"sex":"M","pds":1.6,"mm":3.042},{"sex":"M","pds":1.6,"mm":3.003},{"sex":"M","pds":1.6,"mm":2.963},{"sex":"M","pds":1.6,"mm":2.886},{"sex":"M","pds":1.6,"mm":2.857},{"sex":"M","pds":1.6,"mm":2.746},{"sex":"M","pds":1.6,"mm":2.732},{"sex":"M","pds":1.6,"mm":2.709},{"sex":"M","pds":1.6,"mm":2.664},
 {"sex":"M","pds":1.8,"mm":2.982},{"sex":"M","pds":1.8,"mm":2.928},{"sex":"M","pds":1.8,"mm":2.882},{"sex":"M","pds":1.8,"mm":2.826},{"sex":"M","pds":1.8,"mm":2.806},{"sex":"M","pds":1.8,"mm":2.758},{"sex":"M","pds":1.8,"mm":2.703},{"sex":"M","pds":1.8,"mm":2.664},{"sex":"M","pds":1.8,"mm":2.629},{"sex":"M","pds":1.8,"mm":2.612},{"sex":"M","pds":1.8,"mm":2.599},
 {"sex":"M","pds":2,"mm":3.008},{"sex":"M","pds":2,"mm":2.902},{"sex":"M","pds":2,"mm":2.852},{"sex":"M","pds":2,"mm":2.812},{"sex":"M","pds":2,"mm":2.8},{"sex":"M","pds":2,"mm":2.789},{"sex":"M","pds":2,"mm":2.777},{"sex":"M","pds":2,"mm":2.736},{"sex":"M","pds":2,"mm":2.694},{"sex":"M","pds":2,"mm":2.654},{"sex":"M","pds":2,"mm":2.641},{"sex":"M","pds":2,"mm":2.565},
 {"sex":"M","pds":2.2,"mm":2.889},{"sex":"M","pds":2.2,"mm":2.777},{"sex":"M","pds":2.2,"mm":2.76},{"sex":"M","pds":2.2,"mm":2.746},{"sex":"M","pds":2.2,"mm":2.721},{"sex":"M","pds":2.2,"mm":2.692},{"sex":"M","pds":2.2,"mm":2.664},{"sex":"M","pds":2.2,"mm":2.652},{"sex":"M","pds":2.2,"mm":2.433},
 {"sex":"M","pds":2.4,"mm":2.899},{"sex":"M","pds":2.4,"mm":2.869},{"sex":"M","pds":2.4,"mm":2.84},{"sex":"M","pds":2.4,"mm":2.823},{"sex":"M","pds":2.4,"mm":2.757},{"sex":"M","pds":2.4,"mm":2.743},{"sex":"M","pds":2.4,"mm":2.721},{"sex":"M","pds":2.4,"mm":2.703},{"sex":"M","pds":2.4,"mm":2.686},{"sex":"M","pds":2.4,"mm":2.664},{"sex":"M","pds":2.4,"mm":2.646},{"sex":"M","pds":2.4,"mm":2.618},{"sex":"M","pds":2.4,"mm":2.587},
 {"sex":"M","pds":2.6,"mm":2.894},{"sex":"M","pds":2.6,"mm":2.88},{"sex":"M","pds":2.6,"mm":2.863},{"sex":"M","pds":2.6,"mm":2.846},{"sex":"M","pds":2.6,"mm":2.823},{"sex":"M","pds":2.6,"mm":2.777},{"sex":"M","pds":2.6,"mm":2.755},{"sex":"M","pds":2.6,"mm":2.726},{"sex":"M","pds":2.6,"mm":2.698},{"sex":"M","pds":2.6,"mm":2.664},{"sex":"M","pds":2.6,"mm":2.641},{"sex":"M","pds":2.6,"mm":2.612},{"sex":"M","pds":2.6,"mm":2.572},{"sex":"M","pds":2.6,"mm":2.567},
 {"sex":"M","pds":2.8,"mm":2.916},{"sex":"M","pds":2.8,"mm":2.903},{"sex":"M","pds":2.8,"mm":2.863},{"sex":"M","pds":2.8,"mm":2.84},{"sex":"M","pds":2.8,"mm":2.806},{"sex":"M","pds":2.8,"mm":2.794},{"sex":"M","pds":2.8,"mm":2.732},{"sex":"M","pds":2.8,"mm":2.709},{"sex":"M","pds":2.8,"mm":2.664},{"sex":"M","pds":2.8,"mm":2.572},{"sex":"M","pds":2.8,"mm":2.316},
 {"sex":"M","pds":3,"mm":2.925},{"sex":"M","pds":3,"mm":2.908},{"sex":"M","pds":3,"mm":2.891},{"sex":"M","pds":3,"mm":2.869},{"sex":"M","pds":3,"mm":2.84},{"sex":"M","pds":3,"mm":2.812},{"sex":"M","pds":3,"mm":2.777},{"sex":"M","pds":3,"mm":2.749},{"sex":"M","pds":3,"mm":2.721},{"sex":"M","pds":3,"mm":2.698},{"sex":"M","pds":3,"mm":2.675},{"sex":"M","pds":3,"mm":2.646},{"sex":"M","pds":3,"mm":2.629},{"sex":"M","pds":3,"mm":2.561},{"sex":"M","pds":3,"mm":2.55},{"sex":"M","pds":3,"mm":2.533},{"sex":"M","pds":3,"mm":2.51},{"sex":"M","pds":3,"mm":2.476},
 {"sex":"M","pds":3.2,"mm":3.104},{"sex":"M","pds":3.2,"mm":3.094},{"sex":"M","pds":3.2,"mm":2.931},{"sex":"M","pds":3.2,"mm":2.869},{"sex":"M","pds":3.2,"mm":2.777},{"sex":"M","pds":3.2,"mm":2.721},{"sex":"M","pds":3.2,"mm":2.664},{"sex":"M","pds":3.2,"mm":2.595},{"sex":"M","pds":3.2,"mm":2.572},{"sex":"M","pds":3.2,"mm":2.51},{"sex":"M","pds":3.2,"mm":2.47},{"sex":"M","pds":3.2,"mm":2.459},
 {"sex":"M","pds":3.4,"mm":2.878},{"sex":"M","pds":3.4,"mm":2.84},{"sex":"M","pds":3.4,"mm":2.721},{"sex":"M","pds":3.4,"mm":2.641},{"sex":"M","pds":3.4,"mm":2.572},{"sex":"M","pds":3.4,"mm":2.516},{"sex":"M","pds":3.4,"mm":2.472},
 {"sex":"M","pds":3.6,"mm":2.871},{"sex":"M","pds":3.6,"mm":2.846},{"sex":"M","pds":3.6,"mm":2.789},{"sex":"M","pds":3.6,"mm":2.721},{"sex":"M","pds":3.6,"mm":2.652},{"sex":"M","pds":3.6,"mm":2.584},
 {"sex":"M","pds":3.8,"mm":2.846},{"sex":"M","pds":3.8,"mm":2.823},{"sex":"M","pds":3.8,"mm":2.766},{"sex":"M","pds":3.8,"mm":2.721},{"sex":"M","pds":3.8,"mm":2.664},{"sex":"M","pds":3.8,"mm":2.595},{"sex":"M","pds":3.8,"mm":2.561},{"sex":"M","pds":3.8,"mm":2.47},
 {"sex":"M","pds":4,"mm":2.823},{"sex":"M","pds":4,"mm":2.777},{"sex":"M","pds":4,"mm":2.743},{"sex":"M","pds":4,"mm":2.709},{"sex":"M","pds":4,"mm":2.664},{"sex":"M","pds":4,"mm":2.618},{"sex":"M","pds":4,"mm":2.584},
 {"sex":"F","pds":1.2,"mm":2.846},{"sex":"F","pds":1.2,"mm":2.84},
 {"sex":"F","pds":1.4,"mm":2.977},{"sex":"F","pds":1.4,"mm":2.752},{"sex":"F","pds":1.4,"mm":2.599},
 {"sex":"F","pds":1.6,"mm":2.846},{"sex":"F","pds":1.6,"mm":2.768},{"sex":"F","pds":1.6,"mm":2.755},{"sex":"F","pds":1.6,"mm":2.69},{"sex":"F","pds":1.6,"mm":2.675},{"sex":"F","pds":1.6,"mm":2.65},
 {"sex":"F","pds":1.8,"mm":2.971},{"sex":"F","pds":1.8,"mm":2.874},{"sex":"F","pds":1.8,"mm":2.8},{"sex":"F","pds":1.8,"mm":2.743},{"sex":"F","pds":1.8,"mm":2.732},{"sex":"F","pds":1.8,"mm":2.709},
 {"sex":"F","pds":2,"mm":3.059},{"sex":"F","pds":2,"mm":2.971},{"sex":"F","pds":2,"mm":2.864},{"sex":"F","pds":2,"mm":2.84},
 {"sex":"F","pds":2.2,"mm":2.965},{"sex":"F","pds":2.2,"mm":2.948},{"sex":"F","pds":2.2,"mm":2.869},{"sex":"F","pds":2.2,"mm":2.828},{"sex":"F","pds":2.2,"mm":2.812},{"sex":"F","pds":2.2,"mm":2.8},{"sex":"F","pds":2.2,"mm":2.789},{"sex":"F","pds":2.2,"mm":2.772},{"sex":"F","pds":2.2,"mm":2.732},{"sex":"F","pds":2.2,"mm":2.664},{"sex":"F","pds":2.2,"mm":2.618},{"sex":"F","pds":2.2,"mm":2.561},
 {"sex":"F","pds":2.4,"mm":2.802},{"sex":"F","pds":2.4,"mm":2.789},{"sex":"F","pds":2.4,"mm":2.732},{"sex":"F","pds":2.4,"mm":2.715},{"sex":"F","pds":2.4,"mm":2.698},{"sex":"F","pds":2.4,"mm":2.675},{"sex":"F","pds":2.4,"mm":2.658},
 {"sex":"F","pds":2.6,"mm":2.834},{"sex":"F","pds":2.6,"mm":2.8},{"sex":"F","pds":2.6,"mm":2.766},{"sex":"F","pds":2.6,"mm":2.732},{"sex":"F","pds":2.6,"mm":2.709},{"sex":"F","pds":2.6,"mm":2.675},{"sex":"F","pds":2.6,"mm":2.646},{"sex":"F","pds":2.6,"mm":2.555},{"sex":"F","pds":2.6,"mm":2.367},
 {"sex":"F","pds":2.8,"mm":2.914},{"sex":"F","pds":2.8,"mm":2.886},{"sex":"F","pds":2.8,"mm":2.846},{"sex":"F","pds":2.8,"mm":2.823},{"sex":"F","pds":2.8,"mm":2.755},{"sex":"F","pds":2.8,"mm":2.721},{"sex":"F","pds":2.8,"mm":2.686},{"sex":"F","pds":2.8,"mm":2.641},{"sex":"F","pds":2.8,"mm":2.607},{"sex":"F","pds":2.8,"mm":2.584},
 {"sex":"F","pds":3,"mm":2.829},{"sex":"F","pds":3,"mm":2.8},{"sex":"F","pds":3,"mm":2.777},{"sex":"F","pds":3,"mm":2.76},{"sex":"F","pds":3,"mm":2.726},{"sex":"F","pds":3,"mm":2.709},{"sex":"F","pds":3,"mm":2.686},{"sex":"F","pds":3,"mm":2.664},{"sex":"F","pds":3,"mm":2.612},
 {"sex":"F","pds":3.2,"mm":3.074},{"sex":"F","pds":3.2,"mm":2.897},{"sex":"F","pds":3.2,"mm":2.88},{"sex":"F","pds":3.2,"mm":2.857},{"sex":"F","pds":3.2,"mm":2.812},{"sex":"F","pds":3.2,"mm":2.789},{"sex":"F","pds":3.2,"mm":2.755},{"sex":"F","pds":3.2,"mm":2.732},{"sex":"F","pds":3.2,"mm":2.709},{"sex":"F","pds":3.2,"mm":2.686},{"sex":"F","pds":3.2,"mm":2.652},{"sex":"F","pds":3.2,"mm":2.618},{"sex":"F","pds":3.2,"mm":2.584},{"sex":"F","pds":3.2,"mm":2.55},{"sex":"F","pds":3.2,"mm":2.498},
 {"sex":"F","pds":3.4,"mm":2.851},{"sex":"F","pds":3.4,"mm":2.823},{"sex":"F","pds":3.4,"mm":2.8},{"sex":"F","pds":3.4,"mm":2.777},{"sex":"F","pds":3.4,"mm":2.755},{"sex":"F","pds":3.4,"mm":2.732},{"sex":"F","pds":3.4,"mm":2.709},{"sex":"F","pds":3.4,"mm":2.686},{"sex":"F","pds":3.4,"mm":2.664},{"sex":"F","pds":3.4,"mm":2.641},{"sex":"F","pds":3.4,"mm":2.618},{"sex":"F","pds":3.4,"mm":2.595},{"sex":"F","pds":3.4,"mm":2.572},{"sex":"F","pds":3.4,"mm":2.55},{"sex":"F","pds":3.4,"mm":2.521},{"sex":"F","pds":3.4,"mm":2.493},
 {"sex":"F","pds":3.6,"mm":2.897},{"sex":"F","pds":3.6,"mm":2.869},{"sex":"F","pds":3.6,"mm":2.829},{"sex":"F","pds":3.6,"mm":2.8},{"sex":"F","pds":3.6,"mm":2.777},{"sex":"F","pds":3.6,"mm":2.755},{"sex":"F","pds":3.6,"mm":2.732},{"sex":"F","pds":3.6,"mm":2.709},{"sex":"F","pds":3.6,"mm":2.686},{"sex":"F","pds":3.6,"mm":2.664},{"sex":"F","pds":3.6,"mm":2.641},{"sex":"F","pds":3.6,"mm":2.618},{"sex":"F","pds":3.6,"mm":2.595},{"sex":"F","pds":3.6,"mm":2.572},{"sex":"F","pds":3.6,"mm":2.55},{"sex":"F","pds":3.6,"mm":2.498},{"sex":"F","pds":3.6,"mm":2.484},
 {"sex":"F","pds":3.8,"mm":2.899},{"sex":"F","pds":3.8,"mm":2.869},{"sex":"F","pds":3.8,"mm":2.84},{"sex":"F","pds":3.8,"mm":2.8},{"sex":"F","pds":3.8,"mm":2.777},{"sex":"F","pds":3.8,"mm":2.755},{"sex":"F","pds":3.8,"mm":2.732},{"sex":"F","pds":3.8,"mm":2.709},{"sex":"F","pds":3.8,"mm":2.686},{"sex":"F","pds":3.8,"mm":2.664},{"sex":"F","pds":3.8,"mm":2.641},{"sex":"F","pds":3.8,"mm":2.612},{"sex":"F","pds":3.8,"mm":2.584},{"sex":"F","pds":3.8,"mm":2.527},{"sex":"F","pds":3.8,"mm":2.476},{"sex":"F","pds":3.8,"mm":2.436},{"sex":"F","pds":3.8,"mm":2.339},
 {"sex":"F","pds":4,"mm":2.855},{"sex":"F","pds":4,"mm":2.823},{"sex":"F","pds":4,"mm":2.8},{"sex":"F","pds":4,"mm":2.777},{"sex":"F","pds":4,"mm":2.755},{"sex":"F","pds":4,"mm":2.732},{"sex":"F","pds":4,"mm":2.709},{"sex":"F","pds":4,"mm":2.686},{"sex":"F","pds":4,"mm":2.664},{"sex":"F","pds":4,"mm":2.641},{"sex":"F","pds":4,"mm":2.618},{"sex":"F","pds":4,"mm":2.595},{"sex":"F","pds":4,"mm":2.561},{"sex":"F","pds":4,"mm":2.527},{"sex":"F","pds":4,"mm":2.498},{"sex":"F","pds":4,"mm":2.436},{"sex":"F","pds":4,"mm":2.39},{"sex":"F","pds":4,"mm":2.359}
 ],
 "thickness_fit": [{"pds":1,"mm":2.816},{"pds":4,"mm":2.669}]
},
"vconcat": [
 {
  "width": 539, "height": 334,
  "resolve": {"axis": {"x": "independent", "y": "independent"}},
  "layer": [
   {"data": {"name": "puberty"},
    "mark": {"type": "point", "shape": "circle", "filled": false, "size": 33, "strokeWidth": 1.1, "opacity": 1},
    "encoding": {
     "x": {"field": "age", "type": "quantitative", "scale": {"domain": [10.5, 23.352], "nice": false, "zero": false},
      "axis": {"values": [12, 14, 16, 18, 20, 22], "title": "Age (years)", "labelPadding": 9, "titleX": 280, "titleY": 53.5, "titleAlign": "center", "titleBaseline": "alphabetic"}},
     "y": {"field": "pds", "type": "quantitative", "scale": {"domain": [0.337, 4.656], "nice": false, "zero": false},
      "axis": {"values": [1, 2, 3, 4], "title": "PDS score", "labelAngle": -90, "labelAlign": "center", "labelBaseline": "alphabetic", "labelPadding": 7, "titleAngle": -90, "titleX": -48.5, "titleY": 167, "titleAlign": "center", "titleBaseline": "alphabetic"}},
     "color": {"field": "sex", "type": "nominal", "scale": {"domain": ["F", "M"], "range": ["#E8262B", "#3C4DA5"]}, "legend": null}
    }},
   {"data": {"name": "curves"},
    "mark": {"type": "line", "strokeWidth": 2.2, "interpolate": "monotone"},
    "encoding": {
     "x": {"field": "age", "type": "quantitative", "axis": {"orient": "top", "labels": false, "ticks": false, "title": null, "domain": true}},
     "y": {"field": "pds", "type": "quantitative", "axis": null},
     "color": {"field": "sex", "type": "nominal", "legend": null}
    }}
  ]
 },
 {
  "width": 539, "height": 335,
  "title": {"text": "Frontal gray matter Volume", "baseline": "alphabetic", "offset": 12, "frame": "group", "dx": 17},
  "resolve": {"axis": {"x": "independent", "y": "independent"}},
  "layer": [
   {"data": {"name": "volume"},
    "mark": {"type": "point", "shape": "circle", "filled": false, "size": 33, "strokeWidth": 1.1, "opacity": 1},
    "encoding": {
     "x": {"field": "pds", "type": "quantitative", "scale": {"domain": [-0.215, 5.137], "nice": false, "zero": false},
      "axis": {"values": [0, 1, 2, 3, 4, 5], "title": "PDS score", "labelPadding": 10, "titleX": 275, "titleY": 51, "titleAlign": "center", "titleBaseline": "alphabetic"}},
     "y": {"field": "vol", "type": "quantitative", "scale": {"domain": [135.5, 243.4], "nice": false, "zero": false},
      "axis": {"values": [140, 160, 180, 200, 220, 240], "title": "Adjusted volume (cc)", "labelAngle": -90, "labelAlign": "center", "labelBaseline": "alphabetic", "labelPadding": 8, "titleAngle": -90, "titleX": -50, "titleY": 171, "titleAlign": "center", "titleBaseline": "alphabetic"}},
     "color": {"field": "sex", "type": "nominal", "scale": {"domain": ["F", "M"], "range": ["#E8262B", "#3C4DA5"]}, "legend": null}
    }},
   {"data": {"name": "volume_fit"},
    "mark": {"type": "line", "strokeWidth": 1.2, "color": "#000"},
    "encoding": {
     "x": {"field": "pds", "type": "quantitative", "axis": {"orient": "top", "labels": false, "ticks": false, "title": null, "domain": true}},
     "y": {"field": "vol", "type": "quantitative", "axis": null}
    }}
  ]
 },
 {
  "width": 539, "height": 332,
  "title": {"text": "Frontal cortical thickness", "baseline": "alphabetic", "offset": 10, "frame": "group", "dx": 5.5},
  "resolve": {"axis": {"x": "independent", "y": "independent"}},
  "layer": [
   {"data": {"name": "thickness"},
    "mark": {"type": "point", "shape": "circle", "filled": false, "size": 33, "strokeWidth": 1.1, "opacity": 1},
    "encoding": {
     "x": {"field": "pds", "type": "quantitative", "scale": {"domain": [-0.2, 5.152], "nice": false, "zero": false},
      "axis": {"values": [0, 1, 2, 3, 4, 5], "title": "PDS score", "labelPadding": 10, "titleX": 276.5, "titleY": 51, "titleAlign": "center", "titleBaseline": "alphabetic"}},
     "y": {"field": "mm", "type": "quantitative", "scale": {"domain": [2.16, 3.295], "nice": false, "zero": false},
      "axis": {"values": [2.2, 2.4, 2.6, 2.8, 3.0, 3.2], "format": ".1f", "title": "Adjusted thickness (mm)", "labelAngle": -90, "labelAlign": "center", "labelBaseline": "alphabetic", "labelPadding": 8, "titleAngle": -90, "titleX": -49, "titleY": 169, "titleAlign": "center", "titleBaseline": "alphabetic"}},
     "color": {"field": "sex", "type": "nominal", "scale": {"domain": ["F", "M"], "range": ["#E8262B", "#3C4DA5"]}, "legend": null}
    }},
   {"data": {"name": "thickness_fit"},
    "mark": {"type": "line", "strokeWidth": 1.2, "color": "#000"},
    "encoding": {
     "x": {"field": "pds", "type": "quantitative", "axis": {"orient": "top", "labels": false, "ticks": false, "title": null, "domain": true}},
     "y": {"field": "mm", "type": "quantitative", "axis": null}
    }}
  ]
 }
]
}
